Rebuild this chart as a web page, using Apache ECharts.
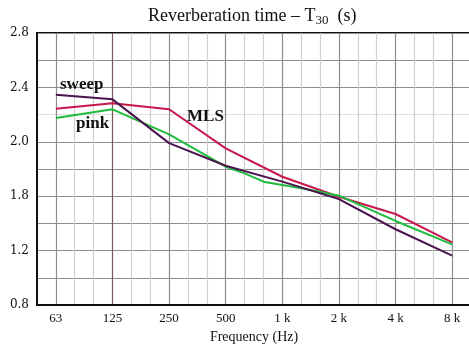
<!DOCTYPE html>
<html>
<head>
<meta charset="utf-8">
<script src="https://cdn.jsdelivr.net/npm/echarts@6/dist/echarts.min.js"></script>
<style>
  html, body { margin: 0; padding: 0; background: #fff; }
  #chart { width: 469px; height: 344px; }
</style>
</head>
<body>
<div id="chart"></div>
<script>
// Third-octave bands shown on the frequency axis (50 Hz .. 10 kHz)
const bands = ['50', '63', '80', '100', '125', '160', '200', '250', '315', '400',
  '500', '630', '800', '1 k', '1.25 k', '1.6 k', '2 k', '2.5 k', '3.15 k', '4 k',
  '5 k', '6.3 k', '8 k', '10 k'];
// Octave bands that carry a label
const octaveLabels = ['63', '125', '250', '500', '1 k', '2 k', '4 k', '8 k'];

// Reverberation time T30 (s) per band; null where a band was not measured
const sweep = [null, 2.346, null, null, 2.312, null, null, 1.99, null, null,
  1.824, null, null, 1.707, null, null, 1.579, null, null, 1.357,
  null, null, 1.163, null];
const mls = [null, 2.243, null, null, 2.283, null, null, 2.239, null, null,
  1.952, null, null, 1.743, null, null, 1.596, null, null, 1.469,
  null, null, 1.261, null];
const pink = [null, 2.175, null, null, 2.239, null, null, 2.055, null, null,
  1.817, 1.768, 1.707, 1.682, 1.658, 1.633, 1.604, null, null, 1.418,
  null, null, 1.246, null];

// Value-axis tick positions and the text printed at each of them
const yTickValues = [0.8, 1.2, 1.6, 2.0, 2.4, 2.8];
const yTickLabels = ['0.8', '1.2', '1.8', '2.0', '2.4', '2.8'];

const DARK = '#8e8e8e', LIGHT = '#cfcfcf', BROWN = '#7d5858';

// Octave grid lines darker, third-octave lines lighter, 125 Hz line brownish
const xLineColors = bands.map(b =>
  b === '125' ? BROWN : (octaveLabels.indexOf(b) >= 0 ? DARK : LIGHT));
// Horizontal lines every 0.2 s; the 2.2 line is drawn faint
const yLineColors = [];
for (let v = 0.8; v <= 2.801; v += 0.2) {
  yLineColors.push(Math.abs(v - 2.2) < 1e-6 ? '#dedede' : DARK);
}

const serif = '"Liberation Serif", "Times New Roman", serif';

const chart = echarts.init(document.getElementById('chart'), null, { renderer: 'canvas' });

const lineSeries = (name, data, color) => ({
  name, type: 'line', data, connectNulls: true,
  showSymbol: false, symbol: 'none', smooth: false,
  lineStyle: { color, width: 2 },
  animation: false
});

chart.setOption({
  animation: false,
  backgroundColor: '#fff',
  grid: {
    left: 37, right: -2, top: 33, bottom: 39,
    containLabel: false, outerBoundsMode: 'none',
    show: true, borderColor: '#111', borderWidth: 2, backgroundColor: 'transparent'
  },
  xAxis: {
    type: 'category',
    data: bands,
    boundaryGap: false,
    name: 'Frequency (Hz)',
    nameLocation: 'middle',
    nameGap: 25,
    nameTextStyle: { fontFamily: serif, fontSize: 14, color: '#111' },
    axisLine: { show: true, lineStyle: { color: '#111', width: 2 } },
    axisTick: { show: false },
    axisLabel: {
      interval: 0, margin: 7,
      fontFamily: serif, fontSize: 13, color: '#111',
      formatter: v => (octaveLabels.indexOf(v) >= 0 ? v : '')
    },
    splitLine: { show: true, interval: 0, lineStyle: { color: xLineColors, width: 1.2 } }
  },
  yAxis: {
    type: 'value',
    min: 0.8, max: 2.8, interval: 0.2,
    axisLine: { show: true, lineStyle: { color: '#111', width: 2 } },
    axisTick: { show: false },
    axisLabel: {
      margin: 8,
      fontFamily: '"DejaVu Serif", serif', fontSize: 12, color: '#111',
      formatter: v => {
        const k = yTickValues.findIndex(t => Math.abs(t - v) < 1e-6);
        return k >= 0 ? yTickLabels[k] : '';
      }
    },
    splitLine: { show: true, lineStyle: { color: yLineColors, width: 1.2 } }
  },
  graphic: [
    {
      type: 'text', left: 148, top: 7, z: 10,
      style: {
        text: '{a|Reverberation time – T}{s|30}{a|  (s)}',
        rich: {
          a: { fontFamily: serif, fontSize: 18, lineHeight: 22, fill: '#111' },
          s: { fontFamily: serif, fontSize: 13, lineHeight: 10, verticalAlign: 'bottom', fill: '#111' }
        }
      }
    },
    { type: 'text', left: 60, top: 76, z: 10,
      style: { text: 'sweep', fontFamily: serif, fontSize: 17, fontWeight: 'bold', fill: '#111' } },
    { type: 'text', left: 76, top: 115, z: 10,
      style: { text: 'pink', fontFamily: serif, fontSize: 17, fontWeight: 'bold', fill: '#111' } },
    { type: 'text', left: 187, top: 108, z: 10,
      style: { text: 'MLS', fontFamily: serif, fontSize: 17, fontWeight: 'bold', fill: '#111' } }
  ],
  series: [
    lineSeries('MLS', mls, '#c8174b'),
    lineSeries('pink', pink, '#1fbb3c'),
    lineSeries('sweep', sweep, '#4a1450')
  ]
});
</script>
</body>
</html>
